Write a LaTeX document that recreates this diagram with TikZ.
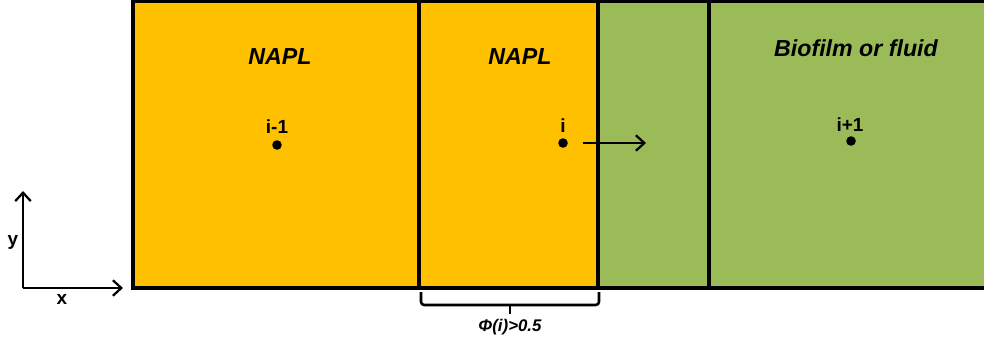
\documentclass[tikz,border=0pt]{standalone}
\usepackage{fontspec}
\setmainfont{Liberation Sans}
\usetikzlibrary{positioning, arrows.meta, calc}
\definecolor{naplorange}{HTML}{FFC000}
\definecolor{biogreen}{HTML}{9BBB59}

\begin{document}
\begin{tikzpicture}[x=0.025cm, y=-0.025cm,
    wall/.style={line width=2.3pt, line cap=rect},
    phase/.style={font=\fontsize{16.5}{19}\selectfont\bfseries\itshape},
    idx/.style={font=\fontsize{13.5}{15}\selectfont\bfseries, inner sep=1pt},
    pt/.style={circle, fill=black, inner sep=0pt, minimum size=0.24cm},
    arr/.style={line width=1.6pt, -{Straight Barb[length=6pt, width=11pt]}}]
    \useasboundingbox (0,0) rectangle (984,343);
    % cells
    \fill[naplorange] (133,1) rectangle (598,288);
    \fill[biogreen] (598,1) rectangle (984,288);
    \draw[wall] (984,1) -- (133,1) -- (133,288) -- (984,288);
    \foreach \x in {419,598,709}
      \draw[wall] (\x,1) -- (\x,288);
    \node[phase] (p1) at (280,57) {NAPL};
    \node[phase] (p2) at (520,57) {NAPL};
    \node[phase] (p3) at (856,48) {Biofilm or fluid};
    % cell centres
    \node[pt] (c1) at (277,145) {};
    \node[pt] (c2) at (563,143) {};
    \node[pt] (c3) at (851,141) {};
    \node[idx] (l1) at (277,127) {i-1};
    \node[idx] (l2) at (563,126) {i};
    \node[idx] (l3) at (850,125) {i+1};
    \coordinate (f0) at (583,143);
    \coordinate (f1) at (646,143);
    \draw[arr] (f0) -- (f1);
    % axes
    \coordinate (o) at (23,288);
    \coordinate (ya) at (23,191);
    \coordinate (xa) at (123,288);
    \draw[arr] (o) -- (ya);
    \draw[arr] (o) -- (xa);
    \node[idx] (ly) at (13,242) {y};
    \node[idx] (lx) at (62,299) {x};
    % bracket under cell i
    \draw[line width=1.8pt, rounded corners=0.08cm] (421,292) -- (421,305) -- (599,305) -- (599,292);
    \draw[line width=1.8pt] (510,305) -- (510,314);
    \node[font=\fontsize{12}{14}\selectfont\bfseries\itshape] (phi) at (510,327) {Φ(i)>0.5};
  \end{tikzpicture}
\end{document}
